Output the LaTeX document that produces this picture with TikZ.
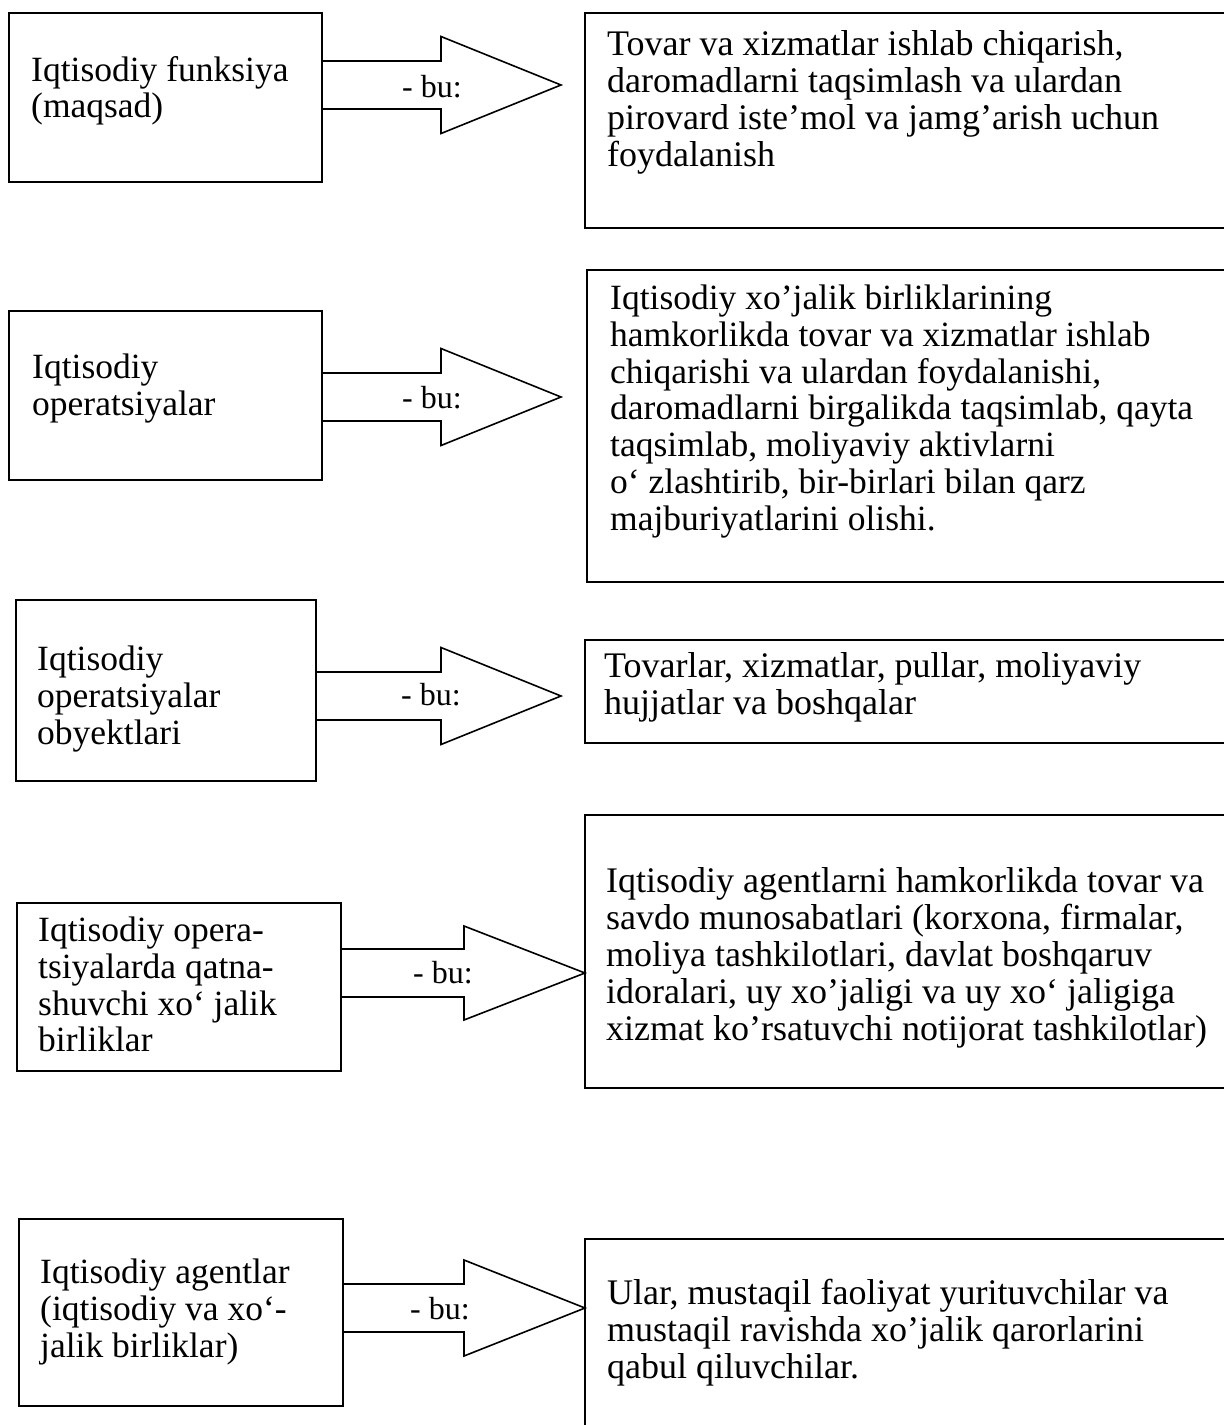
\documentclass[tikz,border=0pt]{standalone}
\usepackage{fontspec}
\setmainfont{Liberation Serif}
\usetikzlibrary{positioning}
\newcommand\boxfont{\fontsize{35.5}{36.7}\selectfont}
\newcommand\rboxfont{\fontsize{36}{37.2}\selectfont}
\newcommand\bufont{\fontsize{32}{34}\selectfont}

\begin{document}
\begin{tikzpicture}[x=1pt,y=-1pt,
  ebox/.style={draw, line width=1.6pt, anchor=north west, inner sep=0pt, outer sep=0pt},
  txt/.style={anchor=north west, inner sep=0pt, align=left, font=\boxfont, execute at begin node=\strut},
  rtxt/.style={txt, font=\rboxfont},
  bulabel/.style={anchor=base, inner sep=0pt, font=\bufont},
  bigarr/.style={line width=1.6pt, line join=miter}]
\useasboundingbox (0,0) rectangle (1224,1425);

% to draw left boxes
\node[ebox, minimum width=313pt, minimum height=169pt] (l1) at (9,13) {};
\node[ebox, minimum width=313pt, minimum height=169pt] (l2) at (9,311) {};
\node[ebox, minimum width=300pt, minimum height=181pt] (l3) at (16,600) {};
\node[ebox, minimum width=324pt, minimum height=168pt] (l4) at (17,903) {};
\node[ebox, minimum width=324pt, minimum height=187pt] (l5) at (19,1219) {};

% to draw right boxes (they run past the page edge)
\node[ebox, minimum width=660pt, minimum height=215pt] (r1) at (585,13) {};
\node[ebox, minimum width=660pt, minimum height=312pt] (r2) at (587,270) {};
\node[ebox, minimum width=660pt, minimum height=103pt] (r3) at (585,640) {};
\node[ebox, minimum width=660pt, minimum height=273pt] (r4) at (585,815) {};
\node[ebox, minimum width=660pt, minimum height=220pt] (r5) at (585,1239) {};

% to write left texts
\node[txt] (l1t) at (31,56) {Iqtisodiy funksiya\\(maqsad)};
\node[txt] (l2t) at (32,354) {Iqtisodiy\\operatsiyalar};
\node[txt] (l3t) at (37,646) {Iqtisodiy\\operatsiyalar\\obyektlari};
\node[txt] (l4t) at (38,917) {Iqtisodiy opera-\\tsiyalarda qatna-\\shuvchi xo‘ jalik\\birliklar};
\node[txt] (l5t) at (40,1259) {Iqtisodiy agentlar\\(iqtisodiy va xo‘-\\jalik birliklar)};

% to write right texts
\node[rtxt] (r1t) at (607,30) {Tovar va xizmatlar ishlab chiqarish,\\daromadlarni taqsimlash va ulardan\\pirovard iste’mol va jamg’arish uchun\\foydalanish};
\node[txt] (r2t) at (610,285) {Iqtisodiy xo’jalik birliklarining\\hamkorlikda tovar va xizmatlar ishlab\\chiqarishi va ulardan foydalanishi,\\daromadlarni birgalikda taqsimlab, qayta\\taqsimlab, moliyaviy aktivlarni\\o‘ zlashtirib, bir-birlari bilan qarz\\majburiyatlarini olishi.};
\node[rtxt] (r3t) at (604,652) {Tovarlar, xizmatlar, pullar, moliyaviy\\hujjatlar va boshqalar};
\node[rtxt] (r4t) at (606,867) {Iqtisodiy agentlarni hamkorlikda tovar va\\savdo munosabatlari (korxona, firmalar,\\moliya tashkilotlari, davlat boshqaruv\\idoralari, uy xo’jaligi va uy xo‘ jaligiga\\xizmat ko’rsatuvchi notijorat tashkilotlar)};
\node[rtxt] (r5t) at (607,1279) {Ular, mustaqil faoliyat yurituvchilar va\\mustaqil ravishda xo’jalik qarorlarini\\qabul qiluvchilar.};

% arrow axes
\coordinate (a1) at (0,85);
\coordinate (a2) at (0,397);
\coordinate (a3) at (0,696);
\coordinate (a4) at (0,973);
\coordinate (a5) at (0,1308);

% to draw block arrows with "- bu:"
\draw[bigarr] (l1.east |- a1) ++(0,-24) -- ++(119,0) -- ++(0,-24.5) -- ++(120,48.5) -- ++(-120,48.5) -- ++(0,-24.5) -- ++(-119,0);
\node[bulabel] (bu1) at (432,97) {- bu:};

\draw[bigarr] (l2.east |- a2) ++(0,-24) -- ++(119,0) -- ++(0,-24.5) -- ++(120,48.5) -- ++(-120,48.5) -- ++(0,-24.5) -- ++(-119,0);
\node[bulabel] (bu2) at (432,408) {- bu:};

\draw[bigarr] (l3.east |- a3) ++(0,-24) -- ++(125,0) -- ++(0,-24.5) -- ++(120,48.5) -- ++(-120,48.5) -- ++(0,-24.5) -- ++(-125,0);
\node[bulabel] (bu3) at (431,705) {- bu:};

\draw[bigarr] (l4.east |- a4) ++(0,-24) -- ++(123,0) -- ++(0,-23) -- (r4.west |- a4) -- ++(-121,47) -- ++(0,-23) -- ++(-123,0);
\node[bulabel] (bu4) at (443,983) {- bu:};

\draw[bigarr] (l5.east |- a5) ++(0,-24) -- ++(121,0) -- ++(0,-24) -- (r5.west |- a5) -- ++(-121,48) -- ++(0,-24) -- ++(-121,0);
\node[bulabel] (bu5) at (440,1319) {- bu:};
\end{tikzpicture}
\end{document}
